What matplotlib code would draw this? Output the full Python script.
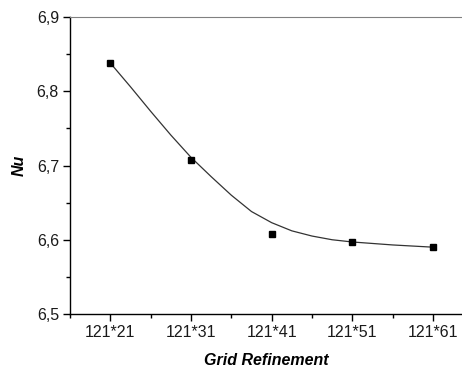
import numpy as np
import matplotlib.pyplot as plt
from matplotlib.ticker import MultipleLocator, FixedLocator

plt.rcParams['font.family'] = ['Liberation Sans', 'DejaVu Sans']

grids = ['121*21', '121*31', '121*41', '121*51', '121*61']
nu = [6.838, 6.708, 6.608, 6.597, 6.590]

# fitted curve
fit_x = [0, 0.25, 0.5, 0.75, 1, 1.25, 1.5, 1.75, 2, 2.25, 2.5, 2.75, 3, 3.25, 3.5, 3.75, 4]
fit_nu = [6.838, 6.806, 6.773, 6.741, 6.711, 6.685, 6.660, 6.638, 6.623, 6.612,
          6.605, 6.600, 6.597, 6.595, 6.593, 6.5915, 6.590]

fig = plt.figure(figsize=(4.62, 3.67), dpi=100)
ax = fig.add_axes([70/462, 1 - 314/367, 392/462, 297/367])

x = np.arange(len(grids))
ax.plot(fit_x, fit_nu, color='#333333', lw=0.9)
ax.plot(x, nu, 's', color='black', ms=4)

ax.set_xlim(-0.5, 4.36)
ax.set_ylim(6.5, 6.9)
ax.set_xticks(x)
ax.set_xticklabels(grids)
ax.xaxis.set_minor_locator(FixedLocator([-0.5, 0.5, 1.5, 2.5, 3.5]))
ax.yaxis.set_major_locator(MultipleLocator(0.1))
ax.yaxis.set_minor_locator(MultipleLocator(0.05))
ax.yaxis.set_major_formatter(lambda v, p: f'{v:.1f}'.replace('.', ','))

ax.spines['right'].set_visible(False)
ax.spines['top'].set_color('#808080')
ax.spines['left'].set_linewidth(1.0)
ax.spines['bottom'].set_linewidth(1.0)
ax.tick_params(which='major', direction='out', length=5, width=1, labelsize=11.5, pad=3,
               labelcolor='#1a1a1a')
ax.tick_params(which='minor', direction='out', length=3, width=1)
ax.tick_params(top=False, right=False, which='both')

ax.set_xlabel('Grid Refinement', fontsize=11.5, fontweight='bold', fontstyle='italic', labelpad=9)
ax.set_ylabel('Nu', fontsize=11.5, fontweight='bold', fontstyle='italic', labelpad=7)

fig.savefig('out.png', dpi=100)
